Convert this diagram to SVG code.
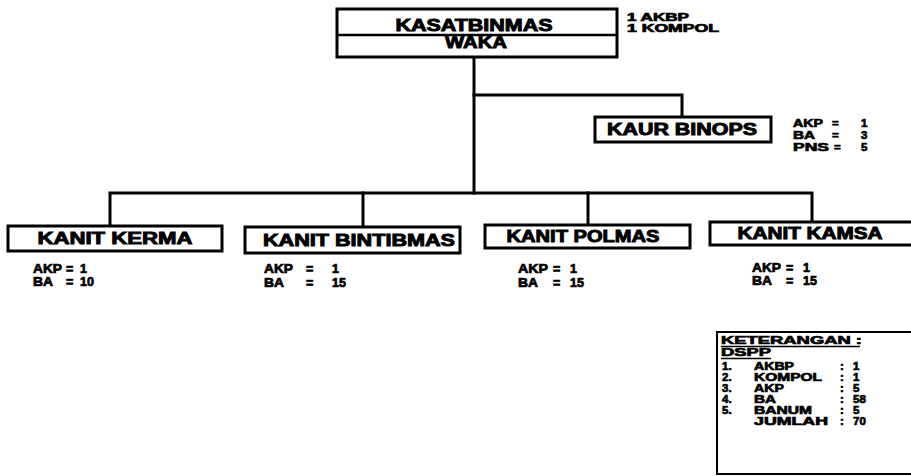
<svg xmlns="http://www.w3.org/2000/svg" width="911" height="476" viewBox="0 0 911 476">
  <style>
    .box { fill: #fff; stroke: #000; stroke-width: 3; }
    .conn { fill: none; stroke: #000; stroke-width: 3; stroke-linecap: square; }
    text { font-family: "Liberation Sans", Arial, sans-serif; font-weight: bold; fill: #000; stroke: #000; stroke-width: 0.7; }
    .cap { font-size: 16px; text-anchor: middle; stroke-width: 0.9; }
    .st { font-size: 12.5px; }
    .sk { font-size: 11.5px; }
    .lg { font-size: 11.5px; }
    .hd { font-size: 10.5px; }
    .ul { stroke: #000; stroke-width: 1.6; }
  </style>

  <!-- reporting lines -->
  <g id="connectors">
    <path class="conn" d="M474 57 V193"/>
    <path class="conn" d="M474 95 H682 V117"/>
    <path class="conn" d="M110 226 V193 H812 V222"/>
    <path class="conn" d="M363 193 V227"/>
    <path class="conn" d="M588 193 V225"/>
  </g>

  <!-- head of unit and deputy -->
  <g id="kasat">
    <rect class="box" x="337" y="9" width="280" height="48"/>
    <line x1="337" y1="35" x2="617" y2="35" stroke="#000" stroke-width="2.5"/>
    <text class="cap" x="474" y="31" textLength="157" lengthAdjust="spacingAndGlyphs">KASATBINMAS</text>
    <text class="cap" x="476" y="48" font-size="15" textLength="62" lengthAdjust="spacingAndGlyphs">WAKA</text>
    <text class="hd" x="627" y="21" textLength="62" lengthAdjust="spacingAndGlyphs">1 AKBP</text>
    <text class="hd" x="627" y="32" textLength="92" lengthAdjust="spacingAndGlyphs">1 KOMPOL</text>
  </g>

  <g id="kaur-binops">
    <rect class="box" x="595" y="117" width="176" height="25"/>
    <text class="cap" x="682" y="135" textLength="150" lengthAdjust="spacingAndGlyphs">KAUR BINOPS</text>
    <text class="sk" x="793" y="127" textLength="30" lengthAdjust="spacingAndGlyphs">AKP</text>
    <text class="sk" x="832" y="127">=</text>
    <text class="sk" x="861" y="127">1</text>
    <text class="sk" x="793" y="139" textLength="22" lengthAdjust="spacingAndGlyphs">BA</text>
    <text class="sk" x="832" y="139">=</text>
    <text class="sk" x="861" y="139">3</text>
    <text class="sk" x="793" y="151" textLength="36" lengthAdjust="spacingAndGlyphs">PNS</text>
    <text class="sk" x="834" y="151">=</text>
    <text class="sk" x="861" y="151">5</text>
  </g>

  <g id="kanit-kerma">
    <rect class="box" x="8" y="226" width="214" height="25"/>
    <text class="cap" x="115" y="244" textLength="155" lengthAdjust="spacingAndGlyphs">KANIT KERMA</text>
    <text class="st" x="33" y="273" textLength="29" lengthAdjust="spacingAndGlyphs">AKP</text>
    <text class="st" x="66" y="273">=</text>
    <text class="st" x="80" y="273">1</text>
    <text class="st" x="33" y="286" textLength="20" lengthAdjust="spacingAndGlyphs">BA</text>
    <text class="st" x="66" y="286">=</text>
    <text class="st" x="80" y="286">10</text>
  </g>

  <g id="kanit-bintibmas">
    <rect class="box" x="245" y="227" width="215" height="26"/>
    <text class="cap" x="359" y="246" textLength="192" lengthAdjust="spacingAndGlyphs">KANIT BINTIBMAS</text>
    <text class="st" x="264" y="273" textLength="29" lengthAdjust="spacingAndGlyphs">AKP</text>
    <text class="st" x="306" y="273">=</text>
    <text class="st" x="332" y="273">1</text>
    <text class="st" x="264" y="287" textLength="20" lengthAdjust="spacingAndGlyphs">BA</text>
    <text class="st" x="306" y="287">=</text>
    <text class="st" x="332" y="287">15</text>
  </g>

  <g id="kanit-polmas">
    <rect class="box" x="485" y="225" width="205" height="23"/>
    <text class="cap" x="583" y="242" textLength="153" lengthAdjust="spacingAndGlyphs">KANIT POLMAS</text>
    <text class="st" x="518" y="273" textLength="30" lengthAdjust="spacingAndGlyphs">AKP</text>
    <text class="st" x="553" y="273">=</text>
    <text class="st" x="570" y="273">1</text>
    <text class="st" x="518" y="287" textLength="20" lengthAdjust="spacingAndGlyphs">BA</text>
    <text class="st" x="553" y="287">=</text>
    <text class="st" x="570" y="287">15</text>
  </g>

  <g id="kanit-kamsa">
    <rect class="box" x="710" y="222" width="206" height="23"/>
    <text class="cap" x="810" y="239" textLength="145" lengthAdjust="spacingAndGlyphs">KANIT KAMSA</text>
    <text class="st" x="752" y="272" textLength="29" lengthAdjust="spacingAndGlyphs">AKP</text>
    <text class="st" x="786" y="272">=</text>
    <text class="st" x="803" y="272">1</text>
    <text class="st" x="752" y="285" textLength="20" lengthAdjust="spacingAndGlyphs">BA</text>
    <text class="st" x="786" y="285">=</text>
    <text class="st" x="803" y="285">15</text>
  </g>

  <!-- staffing summary -->
  <g id="keterangan">
    <rect x="717" y="332" width="200" height="142" fill="#fff" stroke="#000" stroke-width="2"/>
    <text class="lg" x="721" y="344" textLength="141" lengthAdjust="spacingAndGlyphs">KETERANGAN :</text>
    <line class="ul" x1="721" y1="346.5" x2="860" y2="346.5"/>
    <text class="lg" x="721" y="356" textLength="50" lengthAdjust="spacingAndGlyphs">DSPP</text>
    <line class="ul" x1="721" y1="358.5" x2="771" y2="358.5"/>
    <text class="lg" x="722" y="370">1.</text>
    <text class="lg" x="754" y="370" textLength="40" lengthAdjust="spacingAndGlyphs">AKBP</text>
    <text class="lg" x="840" y="370">:</text>
    <text class="lg" x="853" y="370">1</text>
    <text class="lg" x="722" y="381">2.</text>
    <text class="lg" x="754" y="381" textLength="68" lengthAdjust="spacingAndGlyphs">KOMPOL</text>
    <text class="lg" x="840" y="381">:</text>
    <text class="lg" x="853" y="381">1</text>
    <text class="lg" x="722" y="392">3.</text>
    <text class="lg" x="754" y="392" textLength="30" lengthAdjust="spacingAndGlyphs">AKP</text>
    <text class="lg" x="840" y="392">:</text>
    <text class="lg" x="853" y="392">5</text>
    <text class="lg" x="722" y="403">4.</text>
    <text class="lg" x="754" y="403" textLength="22" lengthAdjust="spacingAndGlyphs">BA</text>
    <text class="lg" x="840" y="403">:</text>
    <text class="lg" x="853" y="403">58</text>
    <text class="lg" x="722" y="414">5.</text>
    <text class="lg" x="754" y="414" textLength="58" lengthAdjust="spacingAndGlyphs">BANUM</text>
    <text class="lg" x="840" y="414">:</text>
    <text class="lg" x="853" y="414">5</text>
    <text class="lg" x="754" y="425" textLength="74" lengthAdjust="spacingAndGlyphs">JUMLAH</text>
    <text class="lg" x="840" y="425">:</text>
    <text class="lg" x="853" y="425">70</text>
  </g>
</svg>
